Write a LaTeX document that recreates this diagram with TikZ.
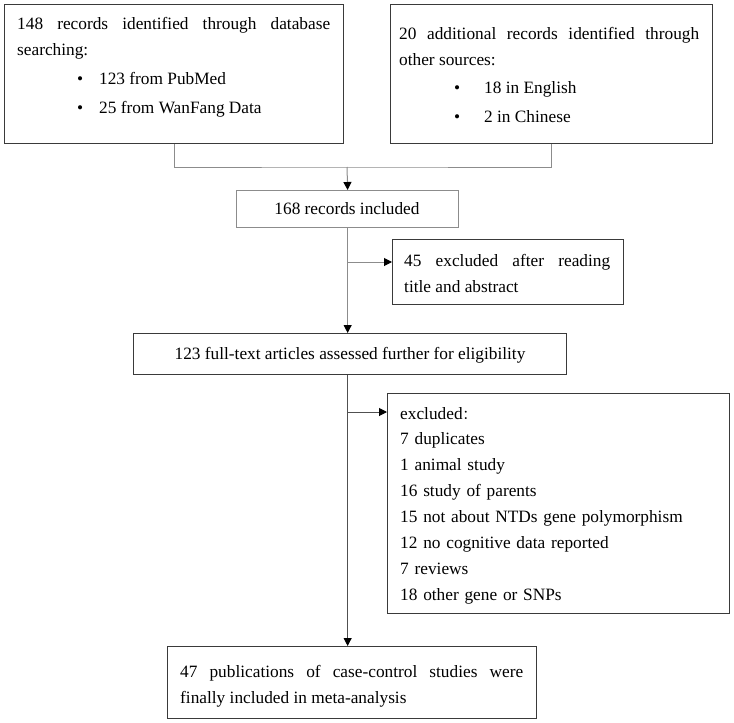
\documentclass[tikz,border=0pt]{standalone}
\usepackage{fontspec}
\setmainfont{Liberation Serif}
\newfontfamily\cjkfont{Noto Sans CJK SC}
\usetikzlibrary{arrows.meta}
\definecolor{boxdark}{HTML}{3A3A3A}
\definecolor{boxlight}{HTML}{8C8C8C}
\definecolor{linelight}{HTML}{8C8C8C}
\definecolor{linedark}{HTML}{505050}
\begin{document}
\begin{tikzpicture}[x=1pt,y=-1pt,
  box/.style={draw=boxdark, line width=1.3pt, inner sep=0pt, anchor=north west},
  txt/.style={inner sep=0pt, anchor=base west, font=\fontsize{17.3}{26}\selectfont, align=justify},
  ltxt/.style={inner sep=0pt, anchor=base west, font=\fontsize{17.3}{25.9}\selectfont, align=left},
  ctxt/.style={inner sep=0pt, anchor=base, font=\fontsize{17.3}{26}\selectfont},
  conn/.style={draw=linelight, line width=1pt},
  arr/.style={conn, -{Triangle[length=8pt,width=8pt,color=black]}}]
\useasboundingbox (0,0) rectangle (734,723);

% boxes
\node[box, minimum width=339pt, minimum height=139pt] (b1) at (4,4) {};
\node[box, minimum width=322pt, minimum height=139pt] (b2) at (390,4) {};
\node[box, draw=boxlight, minimum width=222pt, minimum height=37pt] (b3) at (236,190) {};
\node[box, minimum width=231pt, minimum height=65pt] (b4) at (392,239) {};
\node[box, minimum width=433pt, minimum height=41pt] (b5) at (133,333) {};
\node[box, minimum width=342pt, minimum height=220pt] (b6) at (387,393) {};
\node[box, minimum width=369pt, minimum height=72pt] (b7) at (167,646) {};

% texts
\node[txt, text width=313pt] (t1) at (17,29) {148 records identified through database\linebreak searching:\\[3pt]\hspace*{60pt}\makebox[22pt][l]{\textbullet}123 from PubMed\\[3pt]\hspace*{60pt}\makebox[22pt][l]{\textbullet}25 from WanFang Data};
\node[txt, text width=300pt] (t2) at (399,39) {20 additional records identified through\linebreak other sources:\\[2pt]\hspace*{55pt}\makebox[30pt][l]{\textbullet}18 in English\\[3pt]\hspace*{55pt}\makebox[30pt][l]{\textbullet}2 in Chinese};
\node[ctxt] (t3) at (347,214) {168 records included};
\node[txt, text width=206pt] (t4) at (404,266) {45 excluded after reading\linebreak title and abstract};
\node[ctxt] (t5) at (350,359) {123 full-text articles assessed further for eligibility};
\node[ltxt, text width=320pt] (t6) at (400,419) {excluded{\cjkfont\fontsize{13}{13}\selectfont ：}\\7 duplicates\\1 animal study\\16 study of parents\\15 not about NTDs gene polymorphism\\12 no cognitive data reported\\7 reviews\\18 other gene or SNPs};
\node[txt, text width=343pt] (t7) at (180,677) {47 publications of case-control studies were\linebreak finally included in meta-analysis};

% connectors
\coordinate (j) at (347,167);
\coordinate (k) at (347,262);
\coordinate (m) at (347,412);
\draw[conn] (b1.south) |- (j) -| (b2.south);
\draw[arr] (j) -- (b3.north);
\draw[arr] (b3.south) -- (b3.south |- b5.north);
\draw[arr] (k) -- (k -| b4.west);
\draw[arr, draw=linedark] (b3.south |- b5.south) -- (b3.south |- b7.north);
\draw[arr, draw=linedark] (m) -- (m -| b6.west);
\end{tikzpicture}
\end{document}
